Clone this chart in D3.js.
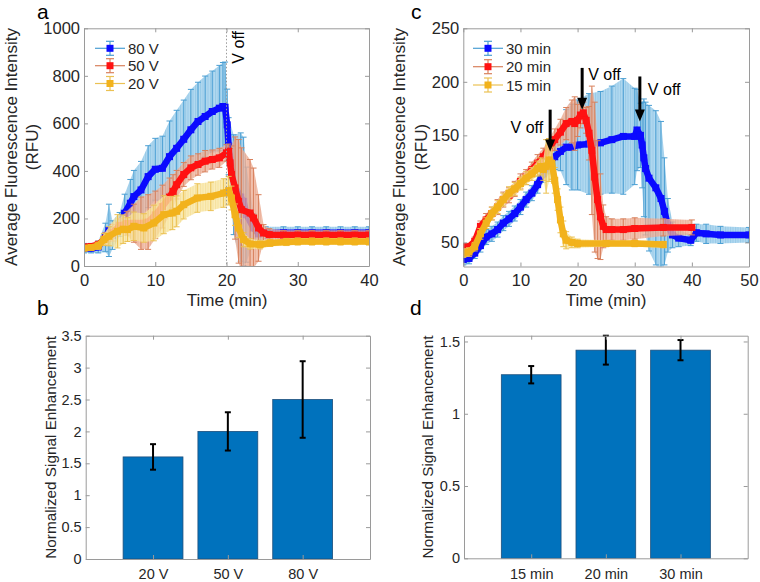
<!DOCTYPE html>
<html><head><meta charset="utf-8">
<script src="https://cdn.jsdelivr.net/npm/d3@7"></script>
<style>body{margin:0;background:#fff}svg{display:block;font-family:Arial,"Liberation Sans",sans-serif}</style>
</head><body>
<script>
// ---------- Panel a data (voltage series) ----------
const a80Time = [0,1,2,3,3.5,4,5,5.7,6.5,7,8,9,10,11,12,13,14,15,16,17,18,19,19.5,19.8,20.1,20.3,21,22,22.4,22.8,23.8,24.5,25.5,28,30,32,34,36,38,40];
const a80Mean = [75,75,80,120,150,130,175,222,264,292,320,376,407,411,460,495,533,573,608,629,650,664,671,668,594,504,342,290,272,216,160,135,140,140,140,140,140,140,140,140];
const a80Err  = [20,20,25,60,110,60,50,80,100,110,120,130,130,135,150,160,165,170,165,170,170,180,185,190,150,120,210,270,270,200,60,30,25,25,25,25,25,25,25,25];

const a50Time = [0,1,2,3,4,5,6,7,8,9,10,11,12,12.5,13,14,15,16,17,18,19,20,20.3,20.5,20.7,21.2,21.7,22.1,23.3,23.8,24.5,25.2,26,28,30,32,34,36,38,40];
const a50Mean = [80,82,90,115,140,170,180,180,180,185,215,250,290,314,342,385,413,427,441,448,455,476,483,434,385,328,272,237,223,202,160,139,132,130,130,130,130,130,130,130];
const a50Err  = [10,10,15,25,35,30,50,80,110,115,100,90,80,70,60,50,50,45,45,40,40,35,30,60,120,215,260,260,225,210,140,35,25,20,20,20,20,20,20,20];

const a20Time = [0,1,2,2.8,3.5,4.7,5.5,6.1,7,8.4,9.8,11.2,12.4,13,14,15.9,17.8,19.6,20.3,20.7,21.2,21.7,22.4,23.3,24.7,26.1,28.4,30,32,34,36,38,40];
const a20Mean = [75,78,85,111,125,146,155,153,167,160,181,216,223,230,258,286,293,307,317,286,216,160,111,93,90,97,101,103,103,103,103,103,103];
const a20Err  = [10,10,15,25,40,70,60,50,60,60,75,80,70,65,60,60,60,60,60,50,45,40,30,22,18,15,15,15,15,15,15,15,15];

const aLegend = ["80 V","50 V","20 V"];
const aXTicks = [0,10,20,30,40];
const aYTicks = [0,200,400,600,800,1000];
const aVoffTime = 20;

// ---------- Panel c data (duration series) ----------
const c30Time = [0,1,2,3,4,5,6,7,8,9,10,11,12,13,14,15,16,17,18,19,20,22,24,26,28,30,30.4,31,31.3,31.6,31.9,32.5,33.7,34.6,35.2,35.8,36.6,37.7,39.8,40.8,42.5,45,50];
const c30Mean = [34,35,40,47,55,58,62,68,72,77,83,90,96,104,114,124,130,135,139,139,141,142,143,146,149,149,155,150,141,129,119,110,101,91,79,66,57,54,52,59,58,57,57];
const c30Err  = [5,5,5,6,7,7,7,7,7,7,7,7,7,8,8,10,12,18,35,40,42,47,48,50,54,45,38,30,40,55,62,68,72,72,50,25,12,8,5,8,9,8,7];

const c20Time = [0,1,2,3,4,5,6,7,8,9,10,11,12,13,14,15,16,17,18,19,19.5,20,20.5,21,21.5,22,22.5,23,23.5,24,24.5,25,26,28,30,35,40];
const c20Mean = [46,46,51,65,71,77,83,90,94,100,107,111,118,124,130,138,146,153,161,163,161,164,169,171,164,152,136,111,90,74,65,62,62,62,63,64,64];
const c20Err  = [3,3,4,5,6,6,7,7,7,7,7,7,7,8,8,9,10,12,15,20,25,15,12,10,12,25,60,70,55,40,20,12,10,10,10,8,7];

const c15Time = [0,1,2,3,4,5,6,7,8,9,10,11,12,13,13.5,14,14.5,15,15.5,16,16.5,17,17.5,18,19,20,25,30,35];
const c15Mean = [40,41,46,58,68,77,83,90,96,100,105,110,114,119,121,118,121,127,124,108,90,71,58,52,50,49,49,49,48];
const c15Err  = [4,4,4,5,5,6,6,6,6,6,6,6,6,7,8,10,25,20,15,12,10,12,12,8,5,4,3,3,3];

const cLegend = ["30 min","20 min","15 min"];
const cXTicks = [0,10,20,30,40,50];
const cYTicks = [50,100,150,200,250];
const cVoffTime = [15.2, 20.8, 30.9];
const cArrowTop = [174, 213, 205];
const cArrowTip = [135, 174, 163];

// ---------- Panel b / d data (bars) ----------
const bCats = ["20 V","50 V","80 V"];
const bVals = [1.6, 2.0, 2.5];
const bErrs = [0.2, 0.3, 0.6];
const bYTicks = [0,0.5,1,1.5,2,2.5,3,3.5];

const dCats = ["15 min","20 min","30 min"];
const dVals = [1.27, 1.44, 1.44];
const dErrs = [0.06, 0.10, 0.07];
const dYTicks = [0,0.5,1,1.5];

// ---------- styles ----------
const FRAME = "#9a9a9a", TXT = "#262626";
const COL = {
  blue:   {id:"pb", mark:"#0b0bff", band:"#9fd0ec", bar:"#4b9fd3"},
  red:    {id:"pr", mark:"#ff1212", band:"#f0b69f", bar:"#d8805c"},
  orange: {id:"po", mark:"#f2b21c", band:"#f9e8a8", bar:"#ebc152"}
};

const svg = d3.select("body").append("svg").attr("width",760).attr("height",582);

// hatch patterns imitating dense error bars
const defs = svg.append("defs");
Object.values(COL).forEach(c=>{
  const p = defs.append("pattern").attr("id",c.id).attr("patternUnits","userSpaceOnUse").attr("width",2.5).attr("height",10);
  p.append("rect").attr("width",2.5).attr("height",10).attr("fill",c.band);
  p.append("line").attr("x1",0.6).attr("x2",0.6).attr("y1",0).attr("y2",10).attr("stroke",c.bar).attr("stroke-width",0.7).attr("opacity",0.7);
});

function axes(g, x, y, xt, yt, fs, xfmt, yfmt, xpad) {
  const [x0,x1] = x.range(), [y0,y1] = y.range();
  const tl = 4;
  const mk = (sel) => {
    sel.select(".domain").attr("stroke",FRAME);
    sel.selectAll(".tick line").attr("stroke",FRAME);
    sel.selectAll(".tick text").attr("fill",TXT).attr("font-size",fs).attr("font-family","Arial, 'Liberation Sans', sans-serif");
  };
  g.append("g").attr("transform",`translate(0,${y0})`)
    .call(d3.axisBottom(x).tickValues(xt).tickSize(-tl).tickSizeOuter(0).tickPadding(xpad).tickFormat(xfmt)).call(mk);
  g.append("g").attr("transform",`translate(0,${y1})`)
    .call(d3.axisTop(x).tickValues(xt).tickSize(-tl).tickSizeOuter(0).tickFormat("")).call(mk);
  g.append("g").attr("transform",`translate(${x0},0)`)
    .call(d3.axisLeft(y).tickValues(yt).tickSize(-tl).tickSizeOuter(0).tickPadding(4).tickFormat(yfmt)).call(mk);
  g.append("g").attr("transform",`translate(${x1},0)`)
    .call(d3.axisRight(y).tickValues(yt).tickSize(-tl).tickSizeOuter(0).tickFormat("")).call(mk);
}

function series(g, x, y, T, M, E, c) {
  const pts = T.map((t,i)=>({t, m:M[i], e:E[i]}));
  g.append("path").datum(pts)
    .attr("d", d3.area().x(d=>x(d.t)).y0(d=>y(d.m-d.e)).y1(d=>y(d.m+d.e)))
    .attr("fill", `url(#${c.id})`).attr("opacity", 0.8);
  const eb = g.append("g").attr("stroke", c.bar).attr("stroke-width", 1);
  pts.forEach(d=>{
    const px = x(d.t);
    eb.append("line").attr("x1",px).attr("x2",px).attr("y1",y(d.m-d.e)).attr("y2",y(d.m+d.e));
    eb.append("line").attr("x1",px-3).attr("x2",px+3).attr("y1",y(d.m-d.e)).attr("y2",y(d.m-d.e));
    eb.append("line").attr("x1",px-3).attr("x2",px+3).attr("y1",y(d.m+d.e)).attr("y2",y(d.m+d.e));
  });
  g.append("path").datum(pts)
    .attr("d", d3.line().x(d=>x(d.t)).y(d=>y(d.m)))
    .attr("fill","none").attr("stroke", c.mark).attr("stroke-width", 6.5).attr("stroke-linejoin","round");
  g.selectAll(null).data(pts).enter().append("rect")
    .attr("x", d=>x(d.t)-3.5).attr("y", d=>y(d.m)-3.5).attr("width",7).attr("height",7)
    .attr("fill", c.mark);
}

function legend(g, x0, x1, ys, labels, cols) {
  labels.forEach((lab,i)=>{
    const c = cols[i], yy = ys[i], xm = (x0+x1)/2;
    g.append("line").attr("x1",x0).attr("x2",x1).attr("y1",yy).attr("y2",yy).attr("stroke",c.bar).attr("stroke-width",1.2);
    g.append("line").attr("x1",xm).attr("x2",xm).attr("y1",yy-7).attr("y2",yy+7).attr("stroke",c.bar).attr("stroke-width",1.2);
    [yy-7,yy+7].forEach(v=>g.append("line").attr("x1",xm-4).attr("x2",xm+4).attr("y1",v).attr("y2",v).attr("stroke",c.bar).attr("stroke-width",1.2));
    g.append("rect").attr("x",xm-3.5).attr("y",yy-3.5).attr("width",7).attr("height",7).attr("fill",c.mark);
    g.append("text").attr("x",x1+3).attr("y",yy+5.5).attr("font-size",15).attr("fill",TXT).text(lab);
  });
}

function ylab(g, lines, xs, cy, fs) {
  lines.forEach((l,i)=>{
    g.append("text").attr("transform",`translate(${xs[i]},${cy}) rotate(-90)`)
      .attr("text-anchor","middle").attr("font-size",fs).attr("fill",TXT).text(l);
  });
}

function letter(g, t, x, y) {
  g.append("text").attr("x",x).attr("y",y).attr("font-size",21).attr("fill","#000").text(t);
}

const fmt = d => String(d);

// ================= Panel a =================
{
  const g = svg.append("g");
  const x = d3.scaleLinear([0,40],[84,369]);
  const y = d3.scaleLinear([0,1000],[266,28.3]);
  g.append("clipPath").attr("id","clipA").append("rect").attr("x",84).attr("y",28.3).attr("width",285).attr("height",237.7);
  const p = g.append("g").attr("clip-path","url(#clipA)");
  series(p, x, y, a80Time, a80Mean, a80Err, COL.blue);
  series(p, x, y, a50Time, a50Mean, a50Err, COL.red);
  series(p, x, y, a20Time, a20Mean, a20Err, COL.orange);
  g.append("line").attr("x1",x(aVoffTime)).attr("x2",x(aVoffTime)).attr("y1",y(1000)).attr("y2",y(0))
    .attr("stroke","#9a9a9a").attr("stroke-width",1).attr("stroke-dasharray","1.5,2");
  g.append("text").attr("transform",`translate(${x(aVoffTime)+17},31) rotate(-90)`)
    .attr("text-anchor","end").attr("font-size",16).attr("fill","#000").text("V off");
  axes(g, x, y, aXTicks, aYTicks, 16.5, fmt, fmt, 8);
  legend(g, 95, 125, [48.3,65.7,83.5], aLegend, [COL.blue, COL.red, COL.orange]);
  ylab(g, ["Average Fluorescence Intensity","(RFU)"], [16.5,38], 147, 17);
  g.append("text").attr("x",227).attr("y",306).attr("text-anchor","middle").attr("font-size",17).attr("fill",TXT).text("Time (min)");
  letter(g, "a", 37, 19);
}

// ================= Panel c =================
{
  const g = svg.append("g");
  const x = d3.scaleLinear([0,50],[463.3,749]);
  const y = d3.scaleLinear([27.5,250],[266.5,28.3]);
  g.append("clipPath").attr("id","clipC").append("rect").attr("x",463.3).attr("y",28.3).attr("width",285.7).attr("height",238.2);
  const p = g.append("g").attr("clip-path","url(#clipC)");
  series(p, x, y, c30Time, c30Mean, c30Err, COL.blue);
  series(p, x, y, c20Time, c20Mean, c20Err, COL.red);
  series(p, x, y, c15Time, c15Mean, c15Err, COL.orange);
  axes(g, x, y, cXTicks, cYTicks, 16.5, fmt, fmt, 8);
  legend(g, 473, 503, [48.3,66.7,85], cLegend, [COL.blue, COL.red, COL.orange]);
  // V off arrows
  cVoffTime.forEach((t,i)=>{
    const px = x(t), yt = y(cArrowTop[i]), yp = y(cArrowTip[i]);
    g.append("line").attr("x1",px).attr("x2",px).attr("y1",yt).attr("y2",yp-10).attr("stroke","#000").attr("stroke-width",3);
    g.append("path").attr("d",`M${px-5},${yp-12}L${px+5},${yp-12}L${px},${yp}Z`).attr("fill","#000");
  });
  const lx = [x(cVoffTime[0])-7, x(cVoffTime[1])+6, x(cVoffTime[2])+8];
  const ly = [133, 80, 95];
  const la = ["end","start","start"];
  lx.forEach((v,i)=>g.append("text").attr("x",v).attr("y",ly[i]).attr("text-anchor",la[i]).attr("font-size",16).attr("fill","#000").text("V off"));
  ylab(g, ["Average Fluorescence Intensity","(RFU)"], [404.5,427], 147, 17);
  g.append("text").attr("x",606).attr("y",306).attr("text-anchor","middle").attr("font-size",17).attr("fill",TXT).text("Time (min)");
  letter(g, "c", 411, 19);
}

// ================= bar panels =================
function barPanel(cats, vals, errs, yt, xr, yr, ydom, ylx, lx, ly, lt) {
  const g = svg.append("g");
  const x = d3.scaleLinear([0.1,3.9], xr);
  const y = d3.scaleLinear(ydom, yr);
  const data = cats.map((c,i)=>({c, i:i+1, v:vals[i], e:errs[i]}));
  g.selectAll(null).data(data).enter().append("rect")
    .attr("x", d=>x(d.i-0.4)).attr("width", d=>x(d.i+0.4)-x(d.i-0.4))
    .attr("y", d=>y(d.v)).attr("height", d=>y(0)-y(d.v))
    .attr("fill","#0072BD").attr("stroke","#1d4f7c").attr("stroke-width",0.8);
  data.forEach(d=>{
    const px = x(d.i);
    g.append("line").attr("x1",px).attr("x2",px).attr("y1",y(d.v-d.e)).attr("y2",y(d.v+d.e)).attr("stroke","#000").attr("stroke-width",2);
    [d.v-d.e, d.v+d.e].forEach(v=>g.append("line").attr("x1",px-3).attr("x2",px+3).attr("y1",y(v)).attr("y2",y(v)).attr("stroke","#000").attr("stroke-width",2));
  });
  axes(g, x, y, [1,2,3], yt, 14.5, (d)=>cats[d-1], fmt, 10);
  ylab(g, ["Normalized Signal Enhancement"], [ylx], (yr[0]+yr[1])/2, 15.3);
  letter(g, lt, lx, ly);
}
barPanel(bCats, bVals, bErrs, bYTicks, [85.7,370], [559,335.7], [0,3.5], 56, 37, 315, "b");
barPanel(dCats, dVals, dErrs, dYTicks, [464,747.7], [558.3,335.7], [0,1.54], 433, 410, 315, "d");
</script>
</body></html>
